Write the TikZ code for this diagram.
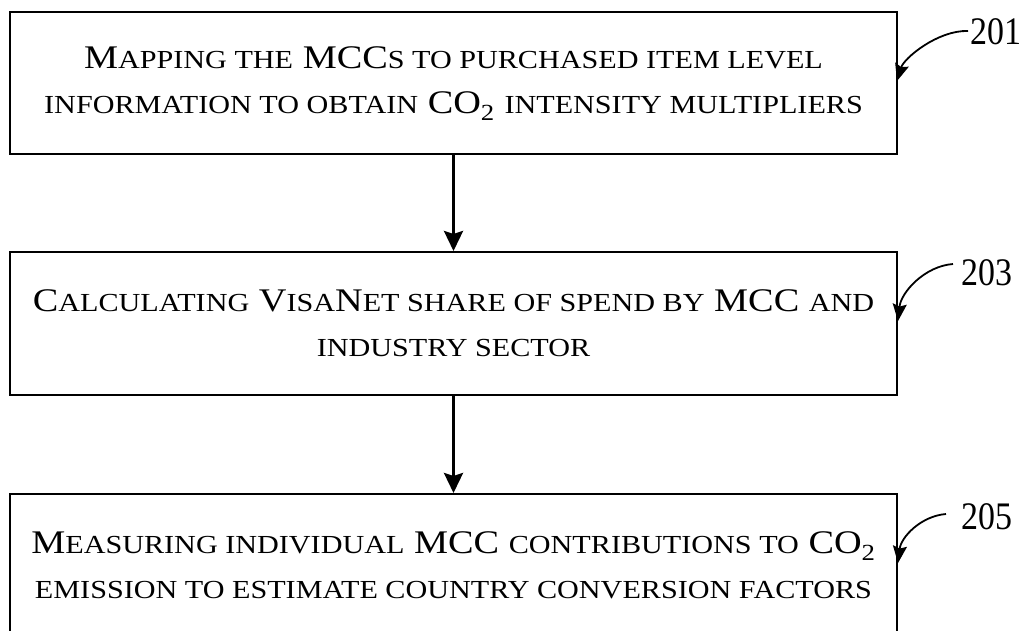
\documentclass[tikz,border=0pt]{standalone}
\usepackage{fontspec}
\setmainfont{Liberation Serif}
\usetikzlibrary{arrows.meta}
\newcommand\smc[1]{{\fontsize{26}{45}\selectfont\MakeUppercase{#1}}}
\newcommand\wideline[1]{\scalebox{1.16}[1]{#1}}
\tikzset{
  box/.style={draw, line width=2pt, rectangle, inner sep=0pt, align=center,
    font=\fontsize{33}{45}\selectfont, minimum width=887pt, anchor=north west},
  flow/.style={line width=3pt, -{Stealth[length=20pt, width=19pt, inset=3pt]}},
  reflabel/.style={inner sep=0pt, anchor=base west, font=\fontsize{39}{39}\selectfont},
  refarrow/.style={line width=1.8pt, -{Stealth[length=17pt, width=14pt, inset=2.5pt]}}
}
\begin{document}
\begin{tikzpicture}[x=1pt, y=-1pt]
\clip (0,0) rectangle (1027,631);
\node[box, minimum height=141.5pt] (b1) at (9,11.5)
  {\wideline{M\smc{apping the} MCC\smc{s to purchased item level}}\\
   \wideline{\smc{information to obtain} CO\textsubscript{2} \smc{intensity multipliers}}};
\node[box, minimum height=143pt] (b2) at (9,251)
  {\wideline{C\smc{alculating} V\smc{isa}N\smc{et share of spend by} MCC \smc{and}}\\
   \wideline{\smc{industry sector}}};
\node[box, minimum height=143pt] (b3) at (9,493)
  {\wideline{M\smc{easuring individual} MCC \smc{contributions to} CO\textsubscript{2}}\\
   \wideline{\smc{emission to estimate country conversion factors}}};
\draw[flow] (b1) -- (b2);
\draw[flow] (b2) -- (b3);
\node[reflabel] (l1) at (970,45) {\scalebox{0.87}[1]{201}};
\node[reflabel] (l2) at (961,285) {\scalebox{0.87}[1]{203}};
\node[reflabel] (l3) at (961,529) {\scalebox{0.87}[1]{205}};
\coordinate (s1) at (968,31);
\coordinate (s2) at (953,264);
\coordinate (s3) at (946,514);
\coordinate (c1) at (897,81);
\coordinate (c2) at (898,321);
\coordinate (c3) at (898,563);
\draw[refarrow] (s1) .. controls (938,30) and (904,58) .. (c1);
\draw[refarrow] (s2) .. controls (925,266) and (901,292) .. (c2);
\draw[refarrow] (s3) .. controls (921,516) and (901,537) .. (c3);
\end{tikzpicture}
\end{document}
